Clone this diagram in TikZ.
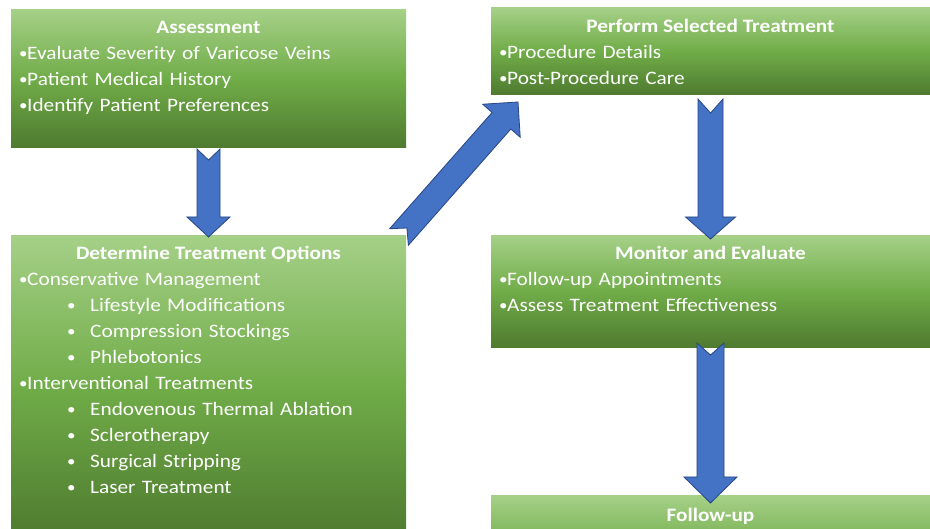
\documentclass[tikz,border=0pt]{standalone}
\usepackage{fontspec}
\setmainfont{Carlito}[FakeStretch=1.12]
\usetikzlibrary{calc}

\definecolor{stagetop}{RGB}{165,208,135}
\definecolor{stagemid}{RGB}{112,172,72}
\definecolor{stagebot}{RGB}{78,122,47}
\definecolor{arrowfill}{RGB}{68,114,196}
\definecolor{arrowline}{RGB}{40,70,130}

\newcommand{\bul}{\makebox[8pt][l]{\raisebox{1.3pt}{\scalebox{0.8}{•}}}}
\newcommand{\subpoint}[1]{\hspace*{48pt}\makebox[23pt][l]{\raisebox{1.3pt}{\scalebox{0.8}{•}}}#1}

% notched block arrow: from, to, half shaft, half head, head length, notch
\newcommand{\blockarrow}[6]{%
  \draw[flowarrow] let \p1=($(#2)-(#1)$), \n1={veclen(\x1,\y1)}, \n2={atan2(\y1,\x1)} in
    ($(#1)+(\n2+90:#3)$) -- ($(#1)+(\n2:\n1-#5)+(\n2+90:#3)$)
    -- ($(#1)+(\n2:\n1-#5)+(\n2+90:#4)$) -- (#2)
    -- ($(#1)+(\n2:\n1-#5)+(\n2-90:#4)$) -- ($(#1)+(\n2:\n1-#5)+(\n2-90:#3)$)
    -- ($(#1)+(\n2-90:#3)$) -- ($(#1)+(\n2:#6)$) -- cycle;}

\begin{document}
\begin{tikzpicture}[x=1pt,y=1pt,
  stage/.style={rectangle,inner sep=0pt,outer sep=0pt,anchor=north west,
    top color=stagetop,bottom color=stagebot,middle color=stagemid},
  heading/.style={text=white,font=\bfseries\fontsize{19}{26}\selectfont,anchor=base,inner sep=0pt},
  items/.style={text=white,font=\fontsize{19}{26}\selectfont,align=left,text width=380pt,
    anchor=base west,inner sep=0pt},
  flowarrow/.style={fill=arrowfill,draw=arrowline,line width=0.8pt,line join=miter}]
\useasboundingbox (0,0) rectangle (930,529);
\clip (0,0) rectangle (930,529);
\fill[white] (0,0) rectangle (930,529);

% stages
\node[stage,minimum width=395pt,minimum height=138pt] (assess) at (11,519) {};
\node[stage,minimum width=395pt,minimum height=303pt] (options) at (11,293) {};
\node[stage,minimum width=439pt,minimum height=87pt] (perform) at (491,521) {};
\node[stage,minimum width=439pt,minimum height=112pt] (monitor) at (491,293) {};
\node[stage,minimum width=439pt,minimum height=112pt] (followup) at (491,33) {};

% texts
\node[heading] (assess-h) at ([yshift=-24pt]assess.north) {Assessment};
\node[items] (assess-i) at ([shift={(8pt,-50pt)}]assess.north west)
  {\bul Evaluate Severity of Varicose Veins\\\bul Patient Medical History\\\bul Identify Patient Preferences};

\node[heading] (options-h) at ([yshift=-24pt]options.north) {Determine Treatment Options};
\node[items] (options-i) at ([shift={(8pt,-50pt)}]options.north west)
  {\bul Conservative Management\\\subpoint{Lifestyle Modifications}\\\subpoint{Compression Stockings}\\
   \subpoint{Phlebotonics}\\\bul Interventional Treatments\\\subpoint{Endovenous Thermal Ablation}\\
   \subpoint{Sclerotherapy}\\\subpoint{Surgical Stripping}\\\subpoint{Laser Treatment}};

\node[heading] (perform-h) at ([yshift=-25pt]perform.north) {Perform Selected Treatment};
\node[items] (perform-i) at ([shift={(8pt,-51pt)}]perform.north west)
  {\bul Procedure Details\\\bul Post-Procedure Care};

\node[heading] (monitor-h) at ([yshift=-24pt]monitor.north) {Monitor and Evaluate};
\node[items] (monitor-i) at ([shift={(8pt,-50pt)}]monitor.north west)
  {\bul Follow-up Appointments\\\bul Assess Treatment Effectiveness};

\node[heading] (followup-h) at ([yshift=-26pt]followup.north) {Follow-up};

% arrows
\blockarrow{[yshift=-1pt]assess.south}{[yshift=-1pt]options.north}{11.5pt}{21.5pt}{20pt}{11pt}
\blockarrow{[yshift=-4pt]perform.south}{[yshift=-3pt]monitor.north}{12.5pt}{25pt}{22pt}{14pt}
\blockarrow{[yshift=5pt]monitor.south}{[yshift=-7pt]followup.north}{13.5pt}{26.5pt}{26pt}{12pt}
\blockarrow{[shift={(-7pt,-1pt)}]options.north east}{[shift={(27pt,-7pt)}]perform.south west}{12.5pt}{25pt}{25pt}{12pt}
\end{tikzpicture}
\end{document}
